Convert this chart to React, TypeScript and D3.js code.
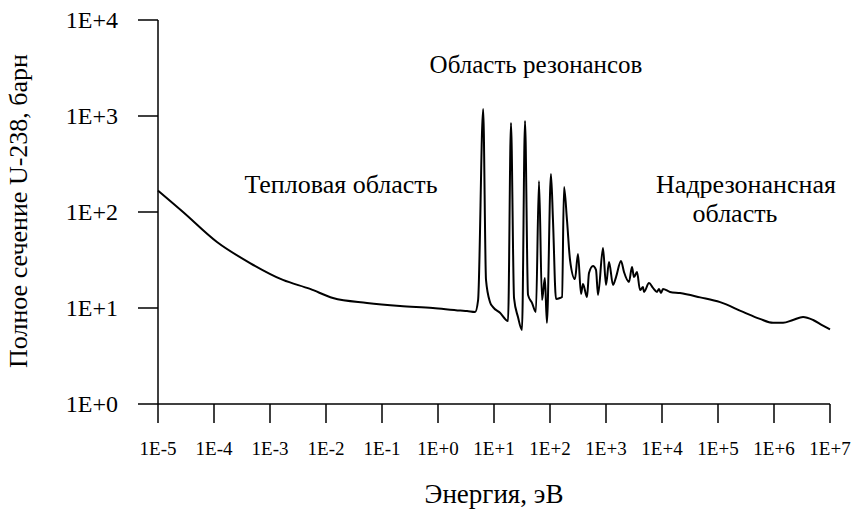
import React from "react";
import * as d3 from "d3";

const energy: number[] = [
  1.0e-5, 2.8e-5, 1.13e-4, 4.4e-4, 1.7e-3, 5.2e-3, 0.0133, 0.054, 0.21, 0.81, 2.5, 3.3, 4.6,
  5.2, 6.4, 7.2, 8.5, 9.6, 12.8, 17.8,
  20.1, 22.8, 26.8, 31.6, 35.8, 40.5, 47.7, 56, 63.6, 72, 81, 88, 104, 113, 128, 151, 164,
  178, 201, 228, 279, 316, 358, 388, 458, 497, 586, 663, 720, 884, 1000, 1132, 1334, 1510,
  1853, 2096, 2575, 2912, 3162, 3577, 4047, 4580, 4774, 5860, 6900, 8150, 8840, 9590,
  1.04e4, 1.39e4, 2.1e4, 4.8e4, 1.09e5, 2.8e5, 5.6e5, 9.6e5, 1.45e6, 2.18e6, 3.3e6, 5.0e6,
  7.2e6, 1.0e7,
];
const sigma: number[] = [
  167, 100, 48.7, 29.4, 19.6, 15.8, 12.7, 11.3, 10.5, 10.0, 9.4, 9.3, 9.1,
  12.1, 1180, 19.6, 11.5, 10.2, 8.9, 7.3,
  845, 12.7, 8.06, 5.9, 887, 13.7, 11.3, 9.1, 210, 12.1, 20.5, 7.0, 249, 82.5, 12.4, 12.7, 13.0,
  182, 82.5, 31.6, 20.0, 36.5, 14.0, 17.8, 13.0, 23.2, 27.4, 24.9, 13.7, 42.2, 17.4, 30.1, 17.4, 21.0,
  30.9, 23.7, 18.7, 26.7, 21.0, 23.7, 15.4, 16.5, 14.7, 18.2, 16.2, 14.7, 15.8, 14.3,
  15.8, 14.7, 14.3, 12.9, 11.5, 9.1, 7.7, 7.0, 7.0, 7.5, 8.06, 7.5,
  6.65, 6.0,
];

const xTicks: number[] = [1e-5, 1e-4, 1e-3, 1e-2, 1e-1, 1e0, 1e1, 1e2, 1e3, 1e4, 1e5, 1e6, 1e7];
const xTickLabels: string[] = ["1E-5", "1E-4", "1E-3", "1E-2", "1E-1", "1E+0", "1E+1", "1E+2", "1E+3", "1E+4", "1E+5", "1E+6", "1E+7"];
const yTicks: number[] = [1, 10, 100, 1000, 10000];
const yTickLabels: string[] = ["1E+0", "1E+1", "1E+2", "1E+3", "1E+4"];

const xTitle = "Энергия, эВ";
const yTitle = "Полное сечение U-238, барн";

export default function App() {
  const W = 853, H = 514;
  const x = d3.scaleLog().domain([1e-5, 1e7]).range([158, 830]);
  const y = d3.scaleLog().domain([1, 1e4]).range([404, 20]);
  const pts = energy.map((e, i) => [e, sigma[i]] as [number, number]);
  const line = d3.line<[number, number]>().x(d => x(d[0])).y(d => y(d[1])).curve(d3.curveMonotoneX);
  const font = "'Liberation Serif', 'DejaVu Serif', serif";
  return (
    <svg width={W} height={H} style={{ position: "absolute", left: 0, top: 0, background: "#fff", fontFamily: font }}>
      <rect width={W} height={H} fill="#fff" />
      <line x1={158} x2={158} y1={y(1e4)} y2={y(1)} stroke="#000" strokeWidth={1.5} />
      {yTicks.map((t, i) => (
        <g key={t}>
          <line x1={138} x2={158} y1={y(t)} y2={y(t)} stroke="#000" strokeWidth={1.5} />
          <text x={118} y={y(t)} dy="0.35em" textAnchor="end" fontSize={24} fill="#000">{yTickLabels[i]}</text>
        </g>
      ))}
      <line x1={x(1e-5)} x2={x(1e7)} y1={404} y2={404} stroke="#000" strokeWidth={1.5} />
      {xTicks.map((t, i) => (
        <g key={t}>
          <line x1={x(t)} x2={x(t)} y1={404} y2={423} stroke="#000" strokeWidth={1.5} />
          <text x={x(t)} y={455} textAnchor="middle" fontSize={19} fill="#000">{xTickLabels[i]}</text>
        </g>
      ))}
      <path d={line(pts) || ""} fill="none" stroke="#000" strokeWidth={2} strokeLinejoin="round" />
      <text x={494} y={503} textAnchor="middle" fontSize={27} fill="#000">{xTitle}</text>
      <text transform={`translate(27,211) rotate(-90)`} textAnchor="middle" fontSize={26} fill="#000">{yTitle}</text>
      <text x={341} y={193} textAnchor="middle" fontSize={26} fill="#000">Тепловая область</text>
      <text x={536} y={73} textAnchor="middle" fontSize={25} fill="#000">Область резонансов</text>
      <text x={746} y={193} textAnchor="middle" fontSize={26} fill="#000">Надрезонансная</text>
      <text x={735} y={222} textAnchor="middle" fontSize={26} fill="#000">область</text>
    </svg>
  );
}
